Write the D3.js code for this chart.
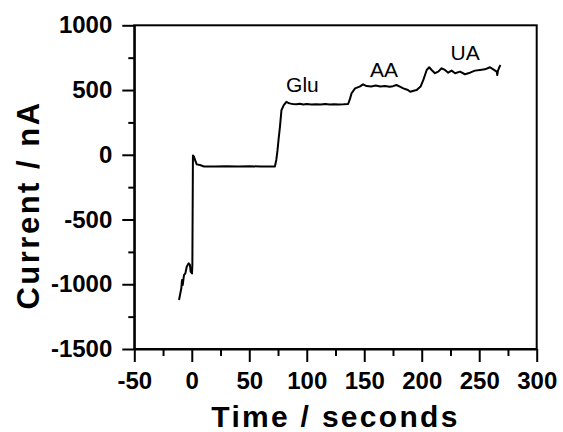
<!DOCTYPE html>
<html>
<head>
<meta charset="utf-8">
<script src="https://cdn.jsdelivr.net/npm/d3@7"></script>
<style>
  html, body { margin: 0; padding: 0; background: #fff; }
  svg { display: block; }
  text { font-family: "Liberation Sans", Arial, sans-serif; fill: #000; }
</style>
</head>
<body>
<svg id="chart" width="563" height="432"></svg>
<script>
// Amperometric response: time (s) vs. current (nA)
const timeSec = [
  -11.1, -9.7, -9.1, -8.5, -7.9, -6.8, -5.6, -4.4, -2.7, -1.6, -1.0, 0.2, 0.5,
  1.0, 1.9, 2.8, 4.3, 7.1, 10.6, 20, 30, 40, 50, 60, 70, 72.3,
  73.5, 74.5, 75.5, 76.7, 78, 80, 82.3, 84, 86, 88, 91, 94, 97, 100, 104, 108,
  112, 116, 120, 124, 128, 132, 136,
  137.5, 139, 142, 146, 149, 152, 156, 160, 164, 168, 172, 175, 178, 181, 184,
  188, 190, 193, 195.6, 199, 201.4, 203, 204.3, 206.5, 208.6, 211.5, 214.4,
  217.3, 220.2, 223, 226, 229, 233.3, 237.6, 242, 246.3, 250.7, 255, 259.4,
  262.2, 265.2, 265.7, 266.3, 268, 268.6
];
const currentNA = [
  -1122, -1058, -1031, -967, -1006, -929, -916, -865, -838, -851, -903, -916, -851,
  -5, -14, -40, -74, -79, -90, -90, -89, -90, -89, -90, -90, -90,
  -40, 30, 120, 217, 345, 384, 409, 400, 395, 392, 390, 394, 389, 392, 388, 391,
  389, 392, 388, 390, 389, 390, 392,
  430, 475, 513, 526, 544, 531, 528, 535, 527, 532, 526, 530, 539, 527, 513,
  500, 487, 495, 500, 527, 578, 620, 655, 676, 655, 630, 642,
  668, 655, 634, 650, 630, 642, 622, 634, 650, 655, 660, 676,
  660, 642, 616, 650, 686, 693
];

const xTicks = [-50, 0, 50, 100, 150, 200, 250, 300];
const xMinorTicks = [-25, 25, 75, 125, 175, 225, 275];
const yTicks = [-1500, -1000, -500, 0, 500, 1000];
const yMinorTicks = [-1250, -750, -250, 250, 750];

const peakLabels = ["Glu", "AA", "UA"];
const peakLabelTime = [82, 155, 225];
const peakLabelCurrent = [485, 600, 730];

const svg = d3.select("#chart");
const plot = { left: 134.3, right: 536.7, top: 25.3, bottom: 349 };

const x = d3.scaleLinear().domain([-50, 300]).range([plot.left, plot.right]);
const y = d3.scaleLinear().domain([-1500, 1000]).range([plot.bottom, plot.top]);

// plain integer labels with an ASCII hyphen, no thousands separator
const plainFormat = d => String(d);

// frame
svg.append("rect")
  .attr("x", plot.left).attr("y", plot.top)
  .attr("width", plot.right - plot.left).attr("height", plot.bottom - plot.top)
  .attr("fill", "none").attr("stroke", "#000").attr("stroke-width", 2);

// minor ticks
svg.append("g")
  .attr("transform", `translate(0,${plot.bottom})`)
  .call(d3.axisBottom(x).tickValues(xMinorTicks).tickSize(7).tickFormat(""))
  .call(g => g.select(".domain").remove())
  .selectAll("line").attr("stroke-width", 2);
svg.append("g")
  .attr("transform", `translate(${plot.left},0)`)
  .call(d3.axisLeft(y).tickValues(yMinorTicks).tickSize(6).tickFormat(""))
  .call(g => g.select(".domain").remove())
  .selectAll("line").attr("stroke-width", 2);

// major ticks and labels
const xAxis = svg.append("g")
  .attr("transform", `translate(0,${plot.bottom})`)
  .call(d3.axisBottom(x).tickValues(xTicks).tickFormat(plainFormat)
    .tickSize(13).tickPadding(10).tickSizeOuter(0));
xAxis.select(".domain").attr("stroke-width", 2);
xAxis.selectAll("line").attr("stroke-width", 2);
xAxis.selectAll("text")
  .attr("font-size", 24).attr("font-weight", "bold")
  .attr("font-family", "Liberation Sans, Arial, sans-serif");

const yAxis = svg.append("g")
  .attr("transform", `translate(${plot.left},0)`)
  .call(d3.axisLeft(y).tickValues(yTicks).tickFormat(plainFormat)
    .tickSize(12).tickPadding(10).tickSizeOuter(0));
yAxis.select(".domain").attr("stroke-width", 2);
yAxis.selectAll("line").attr("stroke-width", 2);
yAxis.selectAll("text")
  .attr("font-size", 24).attr("font-weight", "bold")
  .attr("font-family", "Liberation Sans, Arial, sans-serif");

// data trace
const line = d3.line()
  .x((d, i) => x(timeSec[i]))
  .y(d => y(d));
svg.append("path")
  .datum(currentNA)
  .attr("d", line)
  .attr("fill", "none")
  .attr("stroke", "#000")
  .attr("stroke-width", 2)
  .attr("stroke-linejoin", "round");

// peak annotations
svg.selectAll("text.peak")
  .data(peakLabels)
  .join("text")
  .attr("class", "peak")
  .attr("x", (d, i) => x(peakLabelTime[i]))
  .attr("y", (d, i) => y(peakLabelCurrent[i]))
  .attr("font-size", 21)
  .text(d => d);

// axis titles
svg.append("text")
  .attr("x", (plot.left + plot.right) / 2)
  .attr("y", 427)
  .attr("text-anchor", "middle")
  .attr("font-size", 30).attr("font-weight", "bold")
  .attr("letter-spacing", 2.3)
  .text("Time / seconds");

svg.append("text")
  .attr("transform", `translate(38.5,205) rotate(-90)`)
  .attr("text-anchor", "middle")
  .attr("font-size", 31).attr("font-weight", "bold")
  .attr("letter-spacing", 2.5)
  .text("Current / nA");
</script>
</body>
</html>
